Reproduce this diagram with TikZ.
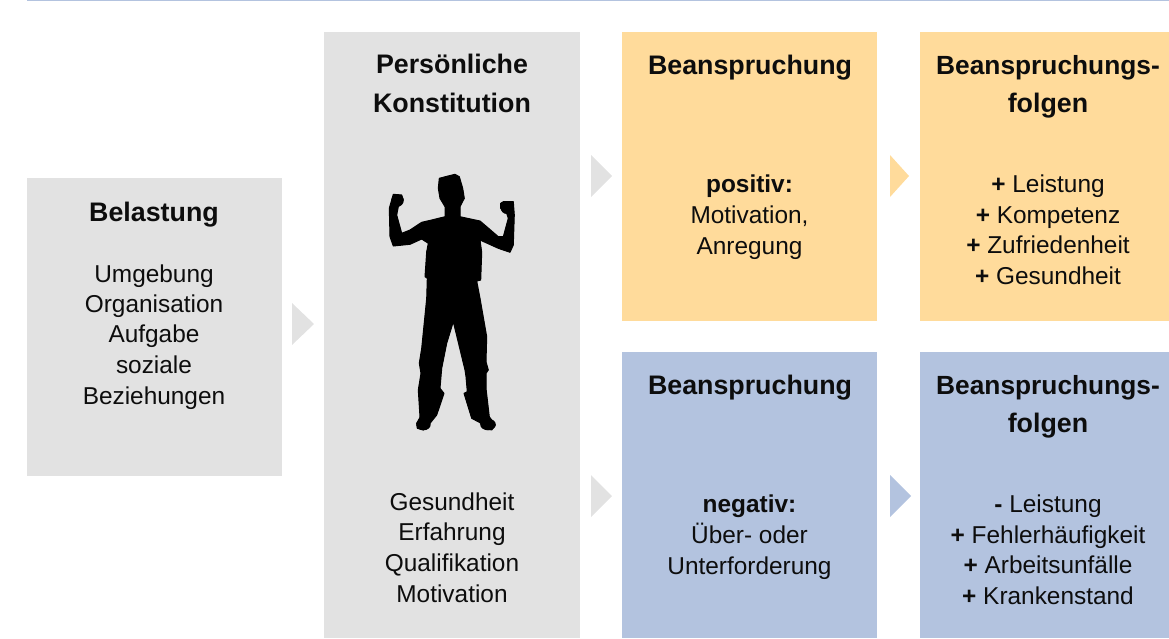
\documentclass[tikz,border=0pt]{standalone}
\usepackage{fontspec}
\setmainfont{Liberation Sans}
\definecolor{greybox}{HTML}{E2E2E2}
\definecolor{orangebox}{HTML}{FFDB9B}
\definecolor{bluebox}{HTML}{B3C3DF}
\tikzset{
  txt/.style={anchor=base,inner sep=0pt,yshift=-0.6pt,font=\fontsize{24.4}{29}\selectfont,text=black!95},
  head/.style={anchor=base,inner sep=0pt,yshift=-0.4pt,font=\fontsize{26.8}{32}\selectfont\bfseries,text=black!95},
  headwide/.style={head,font=\fontsize{26.3}{32}\selectfont\bfseries}
}
\begin{document}
\begin{tikzpicture}[x=1pt,y=-1pt]
\useasboundingbox (0,0) rectangle (1169,638);
\fill[bluebox] (27,0) rectangle (1169,1.4);
% panels
\fill[greybox] (27,178) rectangle (282,476);
\fill[greybox] (324,32) rectangle (580,638);
\fill[orangebox] (622,32) rectangle (877,321);
\fill[orangebox] (920,32) rectangle (1169,321);
\fill[bluebox] (622,352) rectangle (877,638);
\fill[bluebox] (920,352) rectangle (1169,638);
% triangles
\fill[greybox] (292,303) -- (314,324) -- (292,345) -- cycle;
\fill[greybox] (591,155) -- (612,176) -- (591,197) -- cycle;
\fill[orangebox] (890,155) -- (909,176) -- (890,197) -- cycle;
\fill[greybox] (591,475) -- (612,496) -- (591,517) -- cycle;
\fill[bluebox] (890,475) -- (911,496) -- (890,517) -- cycle;
% silhouette
\filldraw[black,line width=1pt,line join=round]
 (439.3,178.3) -- (448,176) -- (455,174.3) -- (459.3,176.7) -- (462.7,188.3) -- (464.3,198.3) -- (460,206.7) -- (460,216.7)
 -- (480,221) -- (486.7,226.7) -- (498.3,236.7) -- (503.3,236.7) -- (508.3,218.3) -- (506.7,213.3) -- (500.7,208.3)
 -- (500.7,203.3) -- (503.3,201.7) -- (513.3,201.7) -- (514.3,215) -- (513.3,245) -- (510,252.3) -- (498.3,248.3)
 -- (480,240) -- (481.7,252.3) -- (480.7,280) -- (476.7,281) -- (480,298.3)
 -- (486.7,336.7) -- (486,361.7) -- (488.3,370) -- (486,373.3) -- (486,388.3) -- (489.3,416.7) -- (495.3,425)
 -- (491.7,430) -- (485,428.3) -- (480,422.7) -- (471.7,418.3) -- (464,393.3) -- (467.3,391.7) -- (466,376.7)
 -- (465,370) -- (453.3,321.7) -- (446.7,343.3) -- (441.7,368.3) -- (440,388.3) -- (444,393.3) -- (436.7,415)
 -- (430,423.3) -- (423.3,430) -- (417.3,428.3) -- (416.7,423.3) -- (420,417.3) -- (418.3,390) -- (421,373.3)
 -- (419.3,363.3) -- (421.7,348.3) -- (426.7,298.3) -- (427.3,278.3) -- (425,276.7) -- (426.7,251.7)
 -- (428.3,243.3) -- (421.7,239) -- (410,244.3) -- (393.3,246) -- (390,236.7) -- (389.3,208.3) -- (393.3,194.3)
 -- (401.7,195) -- (403.3,200) -- (398.3,206.7) -- (396.7,215) -- (401.7,233.3) -- (410,230) -- (421.7,222.3)
 -- (431.7,220) -- (445,216.7) -- (445,206.7) -- (440,198.3) -- (438.3,188.3) -- cycle;
% fists and shoes
\fill[black] (397.5,200.5) circle[radius=6.2];
\fill[black] (507,207.5) circle[radius=6.5];
\fill[black] (423.5,424.5) ellipse[x radius=7.2,y radius=5.8];
\fill[black] (488,424.5) ellipse[x radius=7.8,y radius=5.8];
% Belastung
\node[head] (t1) at (154,221) {Belastung};
\node[txt] (t2) at (154,282) {Umgebung};
\node[txt] (t3) at (154,312) {Organisation};
\node[txt] (t4) at (154,342) {Aufgabe};
\node[txt] (t5) at (154,373) {soziale};
\node[txt] (t6) at (154,404) {Beziehungen};
% Konstitution
\node[head] (k1) at (452,73) {Persönliche};
\node[head] (k2) at (452,112) {Konstitution};
\node[txt] (k3) at (452,510) {Gesundheit};
\node[txt] (k4) at (452,540) {Erfahrung};
\node[txt] (k5) at (452,571) {Qualifikation};
\node[txt] (k6) at (452,602) {Motivation};
% Positive
\node[head] (p1) at (750,74) {Beanspruchung};
\node[txt] (p2) at (749.5,192) {\textbf{positiv:}};
\node[txt] (p3) at (749.5,223) {Motivation,};
\node[txt] (p4) at (749.5,254) {Anregung};
\node[headwide] (f1) at (1048,74) {Beanspruchungs-};
\node[head] (f2) at (1048,112) {folgen};
\node[txt] (f3) at (1048,192) {\textbf{+} Leistung};
\node[txt] (f4) at (1048,223) {\textbf{+} Kompetenz};
\node[txt] (f5) at (1048,253) {\textbf{+} Zufriedenheit};
\node[txt] (f6) at (1048,284) {\textbf{+} Gesundheit};
% Negative
\node[head] (n1) at (750,394) {Beanspruchung};
\node[txt] (n2) at (749.5,512) {\textbf{negativ:}};
\node[txt] (n3) at (749.5,543) {Über- oder};
\node[txt] (n4) at (749.5,574) {Unterforderung};
\node[headwide] (g1) at (1048,394) {Beanspruchungs-};
\node[head] (g2) at (1048,432) {folgen};
\node[txt] (g3) at (1048,512) {\textbf{-} Leistung};
\node[txt] (g4) at (1048,543) {\textbf{+} Fehlerhäufigkeit};
\node[txt] (g5) at (1048,573) {\textbf{+} Arbeitsunfälle};
\node[txt] (g6) at (1048,604) {\textbf{+} Krankenstand};
\end{tikzpicture}
\end{document}
